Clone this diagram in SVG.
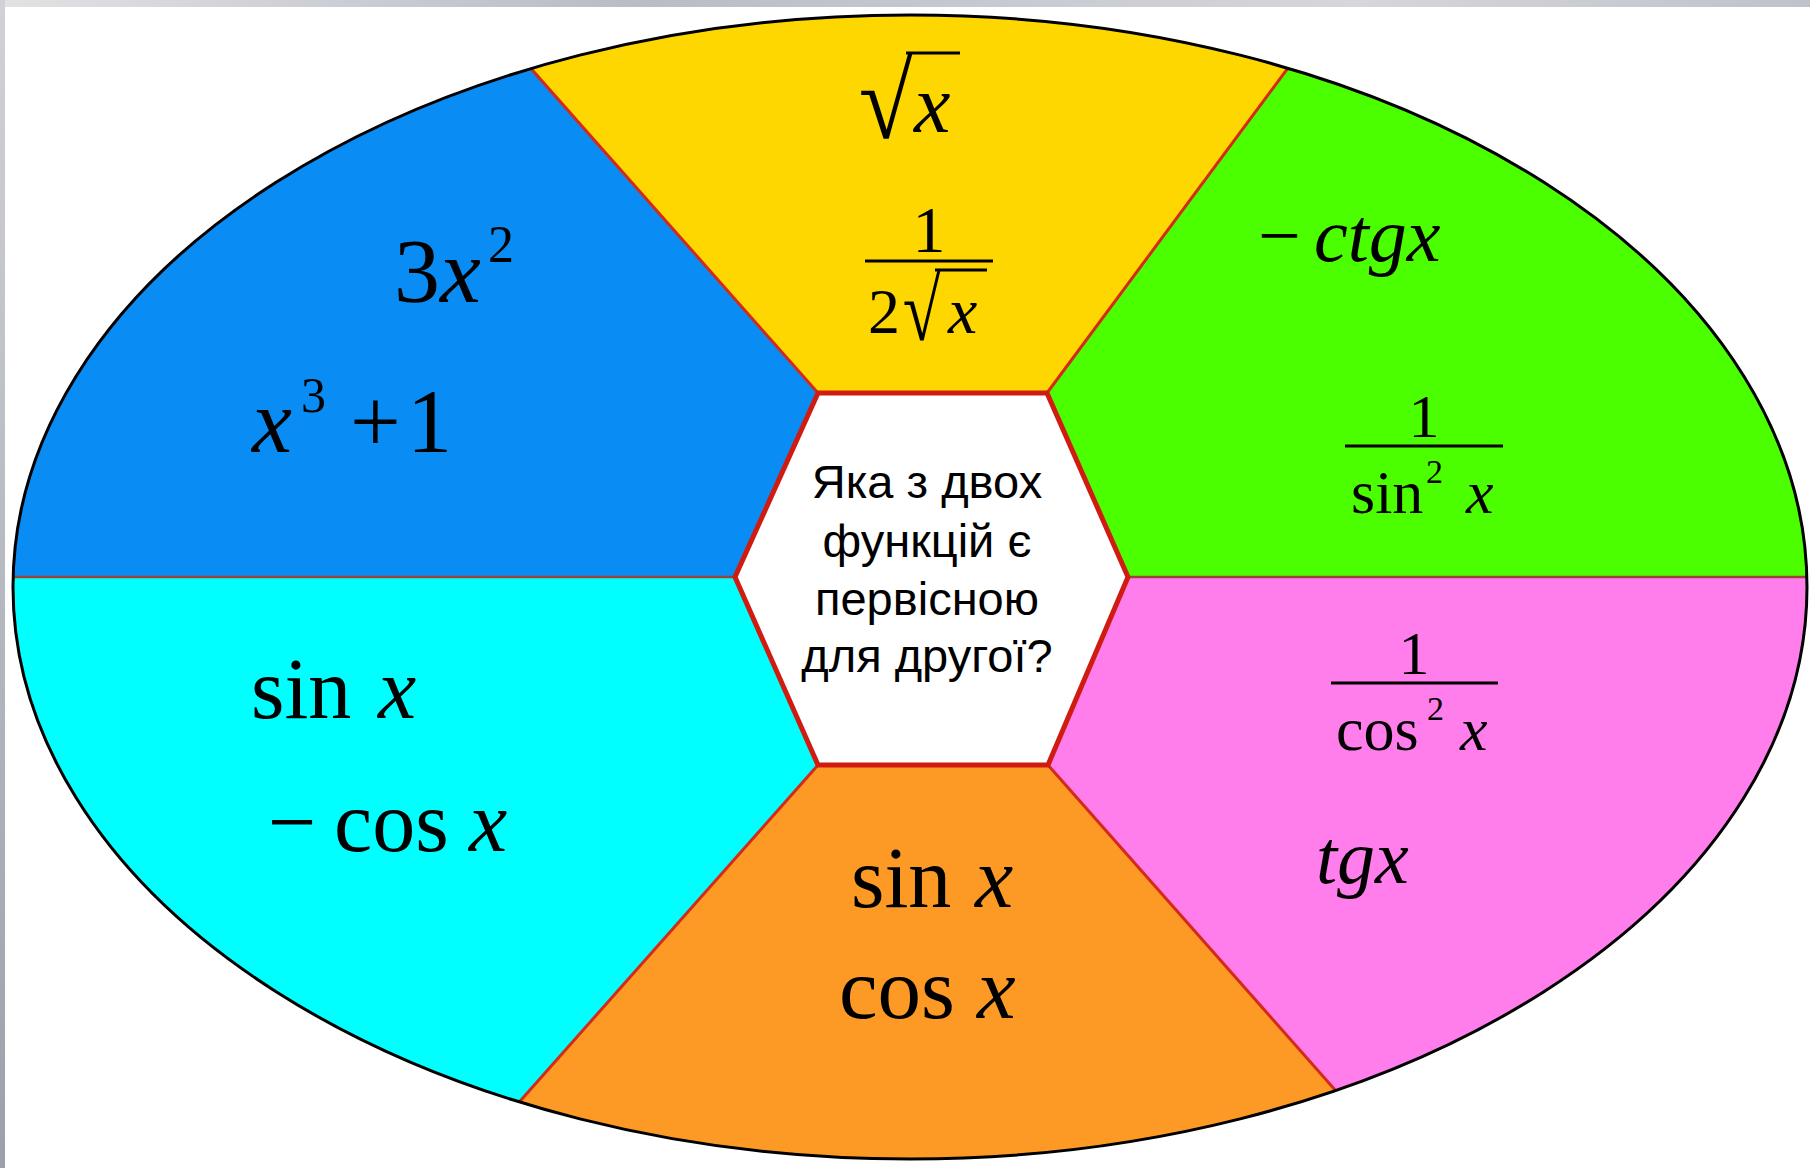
<svg xmlns="http://www.w3.org/2000/svg" width="1810" height="1168" viewBox="0 0 1810 1168">
<style>
.m{font-family:"Liberation Serif","Times New Roman",serif;fill:#000}
.i{font-style:italic}
.q{font-family:"Liberation Sans",Arial,sans-serif;font-size:47px;fill:#000;text-anchor:middle}
.bar{stroke:#000;stroke-width:3}
.spoke{stroke:#d42a1a;stroke-width:3;fill:none}
.hz{stroke:#9a4438;stroke-width:2.5;fill:none}
</style>
<defs>
<clipPath id="ell"><ellipse cx="910" cy="587" rx="897" ry="572"/></clipPath>
<linearGradient id="topg" x1="0" y1="0" x2="1" y2="0">
<stop offset="0" stop-color="#e2e2e4"/><stop offset="0.35" stop-color="#b8bcc7"/><stop offset="0.75" stop-color="#d6d7db"/><stop offset="1" stop-color="#bfc2cb"/>
</linearGradient>
<linearGradient id="leftg" x1="0" y1="0" x2="0" y2="1">
<stop offset="0" stop-color="#d0d2d6"/><stop offset="1" stop-color="#9ca0aa"/>
</linearGradient>
</defs>
<rect width="1810" height="1168" fill="#fff"/>
<rect x="0" y="0" width="1810" height="7" fill="url(#topg)"/>
<rect x="0" y="0" width="5" height="1168" fill="url(#leftg)"/>
<g clip-path="url(#ell)">
<g id="blue">
<polygon points="735,577 818,393 250,-249 -100,-249 -100,577" fill="#0a8cf5"/>
<text class="m" font-size="92" x="394" y="302">3<tspan class="i">x</tspan><tspan font-size="52" x="488" y="262">2</tspan></text>
<text class="m" font-size="90" x="252" y="452"><tspan class="i">x</tspan><tspan font-size="50" x="301" y="412">3</tspan><tspan x="350" y="452">+</tspan><tspan x="407" y="452">1</tspan></text>
</g>
<g id="yellow">
<polygon points="818,393 1047,393 1523,-249 250,-249" fill="#fed700"/>
<text class="m" font-size="90" transform="translate(858.7,137.5) scale(1.095,1.2)">√</text>
<text class="m i" font-size="82" x="914" y="132">x</text>
<line class="bar" x1="906" y1="53" x2="960" y2="53"/>
<text class="m" font-size="66" x="929" y="252" text-anchor="middle">1</text>
<line class="bar" x1="865" y1="261" x2="993" y2="261"/>
<text class="m" font-size="64" x="868" y="333">2</text>
<text class="m" font-size="74" transform="translate(902.7,339.5) scale(0.93,1.19)">√</text>
<text class="m i" font-size="66" x="948" y="333">x</text>
<line class="bar" x1="935" y1="270" x2="987" y2="270"/>
</g>
<g id="green">
<polygon points="1047,393 1128,577 1900,577 1900,-249 1523,-249" fill="#4cff00"/>
<text class="m" font-size="76" x="1258" y="261">−<tspan class="i" x="1314">ctgx</tspan></text>
<text class="m" font-size="62" x="1424" y="437" text-anchor="middle">1</text>
<line class="bar" x1="1345" y1="446" x2="1503" y2="446"/>
<text class="m" font-size="62" x="1351" y="513">sin<tspan font-size="34" x="1426" y="483">2</tspan><tspan class="i" x="1466" y="513">x</tspan></text>
</g>
<g id="pink">
<polygon points="1128,577 1048,765 1624,1417 1900,1417 1900,577" fill="#ff7eec"/>
<text class="m" font-size="62" x="1414" y="674" text-anchor="middle">1</text>
<line class="bar" x1="1331" y1="683" x2="1498" y2="683"/>
<text class="m" font-size="62" x="1336" y="750">cos<tspan font-size="34" x="1427" y="720">2</tspan><tspan class="i" x="1460" y="750">x</tspan></text>
<text class="m i" font-size="76" x="1316" y="883">tgx</text>
</g>
<g id="orange">
<polygon points="1048,765 818,765 226,1433 1624,1433 1624,1417" fill="#fd9a25"/>
<text class="m" font-size="86" x="851" y="907">sin<tspan class="i" x="975">x</tspan></text>
<text class="m" font-size="87" x="839" y="1018">cos<tspan class="i" x="977">x</tspan></text>
</g>
<g id="cyan">
<polygon points="735,577 818,765 226,1433 -100,1433 -100,577" fill="#00ffff"/>
<text class="m" font-size="86" x="251" y="718">sin<tspan class="i" x="378">x</tspan></text>
<text class="m" font-size="86" x="268" y="851">−<tspan x="334">cos</tspan><tspan class="i" x="469">x</tspan></text>
</g>
<g id="connectors">
<line class="spoke" x1="818" y1="393" x2="250" y2="-249"/>
<line class="spoke" x1="1047" y1="393" x2="1523" y2="-249"/>
<line class="spoke" x1="818" y1="765" x2="226" y2="1433"/>
<line class="spoke" x1="1048" y1="765" x2="1624" y2="1417"/>
<line class="hz" x1="735" y1="577" x2="-100" y2="577"/>
<line class="hz" x1="1128" y1="577" x2="1900" y2="577"/>
</g>
</g>
<g id="center">
<polygon points="735,577 818,393 1047,393 1128,577 1048,765 818,765" fill="#fff" stroke="#d01c10" stroke-width="5" stroke-linejoin="miter"/>
<text class="q" x="927" y="498">Яка з двох</text>
<text class="q" x="927" y="557">функцій є</text>
<text class="q" x="927" y="615">первісною</text>
<text class="q" x="927" y="672">для другої?</text>
</g>
<ellipse id="rim" cx="910" cy="587" rx="897" ry="572" fill="none" stroke="#000" stroke-width="3"/>
</svg>
